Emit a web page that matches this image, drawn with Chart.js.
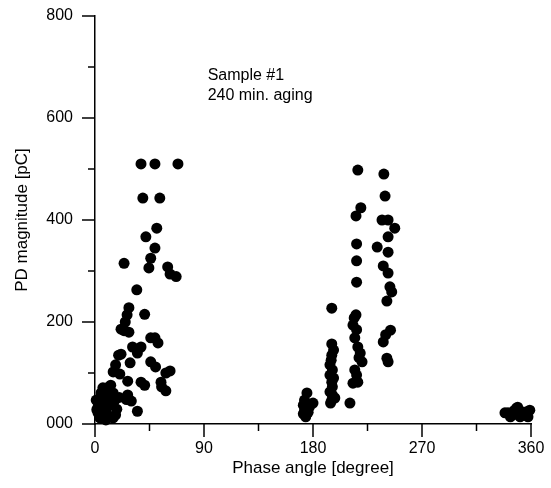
<!DOCTYPE html>
<html>
<head>
<meta charset="utf-8">
<script src="https://cdn.jsdelivr.net/npm/chart.js@4.4.1/dist/chart.umd.min.js"></script>
<style>
  html, body { margin: 0; padding: 0; background: #fff; }
  #wrap { width: 551px; height: 488px; }
</style>
</head>
<body>
<div id="wrap"><canvas id="pdChart" width="551" height="488"></canvas></div>
<script>
// Phase-resolved PD points (degree, pC)
const phaseDeg = [
  38, 49.5, 68.5, 39.5, 53.5,
  51, 42, 49.5, 46, 24, 44.5, 60, 62, 67, 34.5,
  28, 41, 26.5, 25, 21.5, 28, 24,
  46, 52, 49.5, 31, 38, 35, 21.5, 19.5,
  29, 46, 50, 17, 15, 20.5, 62, 58.5,
  27, 38, 41, 54.5, 55, 58.5,
  13, 6.5, 10, 5, 15, 27, 30, 26,
  1, 5, 11, 2.5, 8, 13, 18, 35,
  2.5, 6.5, 13, 15, 1.5, 4, 9,
  3, 7, 11, 16, 20, 9, 17,
  // second half-cycle
  175, 173, 180, 172, 173, 176, 174, 172, 177,
  195.5, 195.5, 195.5, 194, 196, 194, 195.5, 196, 194, 196, 195.5, 198, 194.5, 197, 195, 197,
  217, 219.5, 215.5, 216, 216, 216,
  215.5, 214, 213, 214.5, 217, 219, 220.5, 214.5, 216, 213, 217, 210.5, 218, 216,
  238.5, 239.5, 237, 242, 247.5, 242, 233, 242, 238, 242, 243.5, 245, 241, 244, 240, 238, 241, 242,
  // near 360
  341, 343, 348, 349, 352.5, 356.5, 359, 357.5, 351, 345, 338.5, 346, 354
];
const pdPc = [
  510, 510, 510, 443, 443,
  384, 367, 345, 325, 315, 306, 308, 294, 289, 263,
  228, 215, 214, 200, 186, 180, 183,
  169, 159, 169, 151, 151, 139, 137, 135,
  120, 122, 112, 116, 102, 98, 104, 100,
  84, 82, 76, 82, 73, 65,
  76, 71, 71, 61, 61, 57, 45, 48,
  47, 43, 47, 33, 33, 37, 29, 25,
  22, 18, 14, 12, 28, 12, 25,
  38, 52, 58, 45, 52, 8, 18,
  61, 47, 41, 37, 27, 23, 14, 20, 33,
  227, 157, 135, 116, 106, 96, 82, 73, 63, 57, 47, 51, 41, 90, 125, 145,
  498, 424, 408, 353, 320, 278,
  214, 208, 194, 169, 151, 139, 122, 106, 96, 80, 82, 41, 130, 185,
  490, 447, 400, 400, 384, 367, 347, 337, 310, 296, 269, 259, 241, 184, 175, 161, 129, 122,
  22, 14, 31, 33, 24, 24, 27, 14, 14, 18, 22, 26, 18
];

const xMajorTicks = [0, 90, 180, 270, 360];
const xMinorTicks = [45, 135, 225, 315];
const yMajorTicks = [0, 200, 400, 600, 800];
const yMinorTicks = [100, 300, 500, 700];
const noteLines = ['Sample #1', '240 min. aging'];

const FONT = "'Liberation Sans', Arial, sans-serif";

// tick marks outside the axes, major longer than minor
const tickMarks = {
  id: 'tickMarks',
  afterDraw(chart) {
    const { ctx, chartArea, scales } = chart;
    ctx.save();
    ctx.strokeStyle = '#000';
    ctx.lineWidth = 1.5;
    const mark = (vals, len, horiz) => {
      vals.forEach(v => {
        ctx.beginPath();
        if (horiz) {
          const px = scales.x.getPixelForValue(v);
          ctx.moveTo(px, chartArea.bottom);
          ctx.lineTo(px, chartArea.bottom + len);
        } else {
          const py = scales.y.getPixelForValue(v);
          ctx.moveTo(chartArea.left, py);
          ctx.lineTo(chartArea.left - len, py);
        }
        ctx.stroke();
      });
    };
    mark(xMajorTicks, 13, true);
    mark(xMinorTicks, 7, true);
    mark(yMajorTicks, 13, false);
    mark(yMinorTicks, 7, false);

    // sample note
    ctx.fillStyle = '#000';
    ctx.font = '16px ' + FONT;
    ctx.textBaseline = 'middle';
    ctx.textAlign = 'left';
    const nx = scales.x.getPixelForValue(93);
    ctx.fillText(noteLines[0], nx, scales.y.getPixelForValue(683));
    ctx.fillText(noteLines[1], nx, scales.y.getPixelForValue(643));
    ctx.restore();
  }
};

const points = phaseDeg.map((p, i) => ({ x: p, y: pdPc[i] }));

new Chart(document.getElementById('pdChart'), {
  type: 'scatter',
  data: {
    datasets: [{
      data: points,
      backgroundColor: '#000',
      borderWidth: 0,
      pointRadius: 5.5,
      pointHoverRadius: 5.5,
      clip: false
    }]
  },
  options: {
    responsive: false,
    animation: false,
    layout: { padding: { top: 16, right: 20, left: 0, bottom: 0 } },
    plugins: { legend: { display: false }, tooltip: { enabled: false } },
    scales: {
      x: {
        type: 'linear',
        min: 0, max: 360,
        afterFit: s => { s.height = 64; s.paddingLeft = 0; s.paddingRight = 0; },
        grid: { display: false, drawTicks: false },
        border: { display: true, color: '#000', width: 1.5 },
        ticks: {
          stepSize: 90, color: '#000', padding: 15, maxRotation: 0,
          font: { family: FONT, size: 16 },
          callback: v => xMajorTicks.includes(v) ? String(v) : ''
        },
        title: {
          display: true, text: 'Phase angle [degree]', color: '#000',
          font: { family: FONT, size: 17 }, padding: { top: 0, bottom: 9 }
        }
      },
      y: {
        type: 'linear',
        min: 0, max: 800,
        afterFit: s => { s.width = 95; s.paddingTop = 0; s.paddingBottom = 0; },
        grid: { display: false, drawTicks: false },
        border: { display: true, color: '#000', width: 1.5 },
        ticks: {
          stepSize: 200, color: '#000', padding: 22,
          font: { family: FONT, size: 16 },
          callback: v => v === 0 ? '000' : String(v)
        },
        title: {
          display: true, text: 'PD magnitude [pC]', color: '#000',
          font: { family: FONT, size: 17 }, padding: { top: 12, bottom: 0 }
        }
      }
    }
  },
  plugins: [tickMarks]
});
</script>
</body>
</html>
